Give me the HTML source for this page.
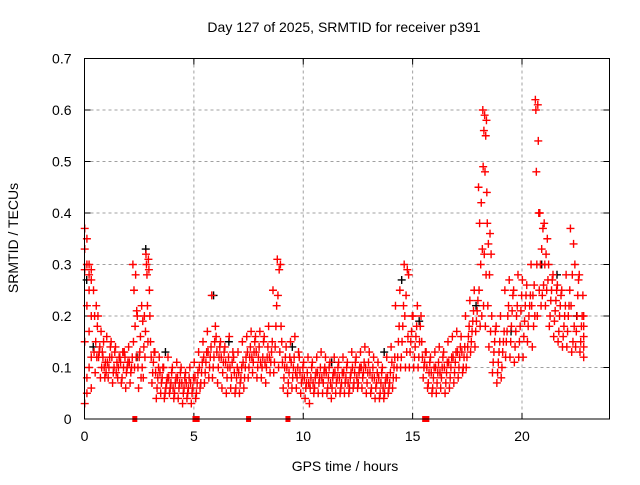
<!DOCTYPE html>
<html><head><meta charset="utf-8"><style>
html,body{margin:0;padding:0;background:#fff}
svg text{font-family:"Liberation Sans",sans-serif;font-size:14px;fill:#000}
</style></head><body>
<svg id="chart" width="640" height="480" viewBox="0 0 640 480" xmlns="http://www.w3.org/2000/svg">
<rect width="640" height="480" fill="#fff"/>
<text x="344" y="32" text-anchor="middle">Day 127 of 2025, SRMTID for receiver p391</text>
<text x="345" y="471" text-anchor="middle">GPS time / hours</text>
<text transform="translate(18,238) rotate(-90)" text-anchor="middle">SRMTID / TECUs</text>
<g id="grid"></g><g id="axes"></g><g id="black"></g><g id="red"></g><g id="zeros"></g>
<rect x="84.5" y="58.5" width="525" height="360.5" fill="none" stroke="#000" stroke-width="1"/>
</svg>
<script>
const xTicks=[0,5,10,15,20];
const yTicks=[0,0.1,0.2,0.3,0.4,0.5,0.6,0.7];
const yTickLabels=["0","0.1","0.2","0.3","0.4","0.5","0.6","0.7"];
const binWidth=0.2;
const redBins=[
[0.37,0.35,0.33,0.3,0.29,0.22,0.15,0.05,0.03,0.08],
[0.3,0.29,0.28,0.27,0.25,0.2,0.17,0.12,0.1,0.06],
[0.25,0.22,0.2,0.18,0.15,0.13,0.12,0.09],
[0.2,0.17,0.14,0.12,0.1,0.08,0.13],
[0.13,0.11,0.1,0.12,0.09,0.08,0.15],
[0.16,0.14,0.12,0.1,0.08,0.11],
[0.15,0.13,0.1,0.09,0.07,0.12],
[0.14,0.12,0.1,0.08,0.11,0.09],
[0.12,0.1,0.13,0.08,0.07,0.11],
[0.13,0.11,0.1,0.09,0.06,0.12],
[0.14,0.12,0.1,0.09,0.07,0.11],
[0.3,0.28,0.25,0.21,0.18,0.15,0.12,0.1],
[0.2,0.16,0.12,0.1,0.08,0.13,0.06],
[0.22,0.2,0.19,0.17,0.14,0.1,0.12,0.08],
[0.32,0.31,0.3,0.29,0.28,0.25,0.22,0.2,0.15],
[0.15,0.13,0.11,0.09,0.07,0.12],
[0.13,0.1,0.08,0.06,0.04,0.09],
[0.12,0.1,0.08,0.07,0.05,0.09],
[0.1,0.08,0.07,0.06,0.05,0.04],
[0.12,0.09,0.07,0.06,0.05,0.08],
[0.1,0.08,0.07,0.05,0.04,0.06],
[0.11,0.09,0.07,0.06,0.04,0.08],
[0.1,0.08,0.06,0.05,0.03,0.07],
[0.09,0.08,0.06,0.05,0.04,0.07],
[0.1,0.08,0.06,0.05,0.03,0.07],
[0.11,0.09,0.07,0.05,0.04,0.08],
[0.13,0.11,0.09,0.07,0.06,0.1],
[0.15,0.13,0.11,0.09,0.07,0.12],
[0.17,0.14,0.12,0.1,0.08,0.13],
[0.24,0.18,0.15,0.12,0.1,0.08],
[0.16,0.14,0.12,0.1,0.07,0.13],
[0.15,0.13,0.11,0.09,0.06,0.12],
[0.14,0.12,0.1,0.08,0.05,0.11],
[0.16,0.13,0.11,0.08,0.06,0.1],
[0.12,0.1,0.08,0.06,0.05,0.09],
[0.13,0.1,0.08,0.07,0.05,0.09],
[0.15,0.12,0.1,0.08,0.06,0.11],
[0.16,0.14,0.12,0.1,0.08,0.13],
[0.17,0.15,0.13,0.11,0.09,0.12],
[0.16,0.14,0.12,0.1,0.08,0.13],
[0.17,0.15,0.12,0.1,0.08,0.11],
[0.16,0.14,0.12,0.1,0.07,0.11],
[0.18,0.15,0.13,0.11,0.09,0.12],
[0.25,0.22,0.18,0.14,0.11,0.09],
[0.31,0.3,0.29,0.24,0.18,0.13,0.1],
[0.15,0.12,0.1,0.08,0.06,0.11],
[0.14,0.12,0.09,0.07,0.05,0.1],
[0.15,0.12,0.1,0.08,0.06,0.11],
[0.16,0.13,0.1,0.08,0.06,0.09],
[0.12,0.1,0.08,0.07,0.05,0.09],
[0.11,0.09,0.07,0.06,0.04,0.08],
[0.12,0.1,0.08,0.06,0.03,0.07],
[0.11,0.09,0.08,0.06,0.05,0.07],
[0.12,0.1,0.08,0.07,0.05,0.09],
[0.13,0.1,0.09,0.07,0.05,0.08],
[0.12,0.1,0.08,0.06,0.05,0.09],
[0.11,0.09,0.08,0.06,0.04,0.07],
[0.12,0.1,0.08,0.07,0.05,0.09],
[0.11,0.09,0.07,0.06,0.05,0.08],
[0.12,0.1,0.08,0.07,0.05,0.09],
[0.11,0.09,0.08,0.06,0.05,0.07],
[0.13,0.11,0.09,0.07,0.06,0.1],
[0.12,0.1,0.09,0.07,0.06,0.08],
[0.13,0.11,0.09,0.08,0.06,0.1],
[0.14,0.11,0.09,0.07,0.05,0.1],
[0.13,0.1,0.08,0.06,0.05,0.09],
[0.12,0.09,0.07,0.06,0.04,0.08],
[0.11,0.09,0.07,0.05,0.04,0.08],
[0.1,0.08,0.07,0.05,0.04,0.06],
[0.12,0.09,0.07,0.06,0.05,0.08],
[0.14,0.12,0.1,0.08,0.06,0.11],
[0.22,0.18,0.15,0.12,0.1,0.08],
[0.25,0.22,0.18,0.15,0.12,0.1],
[0.3,0.29,0.24,0.2,0.16,0.13,0.1],
[0.28,0.2,0.17,0.15,0.13,0.1],
[0.2,0.18,0.16,0.14,0.12,0.1],
[0.22,0.2,0.18,0.15,0.12,0.1],
[0.15,0.13,0.11,0.1,0.08,0.12],
[0.13,0.11,0.09,0.07,0.06,0.1],
[0.12,0.1,0.08,0.06,0.05,0.09],
[0.13,0.11,0.09,0.07,0.05,0.1],
[0.14,0.12,0.1,0.08,0.06,0.09],
[0.13,0.11,0.09,0.07,0.05,0.1],
[0.15,0.12,0.1,0.08,0.06,0.11],
[0.16,0.13,0.11,0.09,0.07,0.12],
[0.17,0.14,0.12,0.1,0.08,0.13],
[0.16,0.14,0.12,0.1,0.09,0.13],
[0.2,0.18,0.16,0.14,0.12,0.1],
[0.23,0.21,0.19,0.17,0.15,0.13],
[0.25,0.23,0.21,0.19,0.17,0.14],
[0.45,0.42,0.38,0.33,0.3,0.25,0.2,0.18],
[0.6,0.59,0.58,0.56,0.55,0.49,0.48,0.44,0.32,0.28,0.22,0.18],
[0.38,0.36,0.34,0.32,0.28,0.22,0.17,0.14],
[0.2,0.17,0.15,0.13,0.11,0.09],
[0.18,0.15,0.13,0.11,0.09,0.07],
[0.2,0.17,0.15,0.13,0.1,0.08],
[0.25,0.22,0.2,0.17,0.15,0.12],
[0.27,0.24,0.21,0.18,0.15,0.12],
[0.25,0.22,0.2,0.17,0.14,0.11],
[0.28,0.24,0.21,0.18,0.15,0.12],
[0.27,0.24,0.22,0.19,0.16,0.12],
[0.26,0.24,0.22,0.2,0.18,0.15],
[0.3,0.26,0.24,0.22,0.2,0.18,0.14],
[0.62,0.61,0.6,0.54,0.48,0.4,0.3,0.25,0.2],
[0.4,0.37,0.33,0.3,0.26,0.24,0.22],
[0.38,0.35,0.32,0.3,0.27,0.25,0.22],
[0.3,0.27,0.25,0.23,0.2,0.18],
[0.28,0.25,0.23,0.21,0.19,0.16],
[0.26,0.24,0.22,0.2,0.17,0.15],
[0.25,0.22,0.2,0.18,0.16,0.14],
[0.28,0.25,0.22,0.2,0.17,0.14],
[0.37,0.34,0.28,0.22,0.18,0.15,0.13],
[0.3,0.27,0.24,0.2,0.17,0.14],
[0.28,0.24,0.2,0.18,0.15,0.13],
[0.2,0.18,0.16,0.14,0.12]
];
const blackHours=[0.1,0.4,2.4,2.8,3.7,5.9,6.6,9.5,11.3,13.7,14.5,15.3,17.9,19.5,20.9,21.6,22.5];
const blackValues=[0.27,0.14,0.12,0.33,0.13,0.24,0.15,0.14,0.11,0.13,0.27,0.19,0.22,0.17,0.3,0.28,0.2];
const zeroHours=[2.3,5.05,5.15,7.5,9.3,15.55,15.65];

const X0=84.5,X1=609.5,Y0=419,Y1=58.5,XMAX=24,YMAX=0.7;
const sx=h=>X0+h/XMAX*(X1-X0);
const sy=v=>Y0-v/YMAX*(Y0-Y1);
const NS="http://www.w3.org/2000/svg";
function mk(tag,parent){const e=document.createElementNS(NS,tag);document.getElementById(parent).appendChild(e);return e;}

xTicks.forEach(t=>{
  const x=sx(t);
  if(t>0){const g=mk('line','grid');
    
    
    g.setAttribute('x1',x);g.setAttribute('x2',x);g.setAttribute('y1',Y1);g.setAttribute('y2',Y0);
    g.setAttribute('stroke','#a0a0a0');g.setAttribute('stroke-dasharray','3,3');}
  const tk=mk('path','axes');
  
  
  tk.setAttribute('d',`M${x},${Y0}v-6M${x},${Y1}v6`);tk.setAttribute('stroke','#000');
  const tx=mk('text','axes');
  
  
  tx.setAttribute('x',x);tx.setAttribute('y',Y0+22);tx.setAttribute('text-anchor','middle');tx.textContent=String(t);
});
yTicks.forEach((t,i)=>{
  const y=sy(t);
  if(t>0&&t<YMAX){const g=mk('line','grid');
    
    
    g.setAttribute('x1',X0);g.setAttribute('x2',X1);g.setAttribute('y1',y);g.setAttribute('y2',y);
    g.setAttribute('stroke','#a0a0a0');g.setAttribute('stroke-dasharray','3,3');}
  const tk=mk('path','axes');
  
  
  tk.setAttribute('d',`M${X0},${y}h6M${X1},${y}h-6`);tk.setAttribute('stroke','#000');
  const tx=mk('text','axes');
  
  
  tx.setAttribute('x',X0-13);tx.setAttribute('y',y+5);tx.setAttribute('text-anchor','end');tx.textContent=yTickLabels[i];
});
function plus(parent,h,v,color,name){
  const p=mk('path',parent);
  
  
  const x=sx(h),y=sy(v);
  p.setAttribute('d',`M${x-4},${y}h8M${x},${y-4}v8`);
  p.setAttribute('stroke',color);p.setAttribute('stroke-width','1.4');p.setAttribute('fill','none');
}
blackHours.forEach((h,i)=>plus('black',h,blackValues[i],'#000','black-point'));
redBins.forEach((vals,b)=>{
  const n=vals.length;
  vals.forEach((v,k)=>{
    const h=b*binWidth+((k*5)%n+0.5)/n*binWidth;
    plus('red',h,v,'#f00','red-point');
  });
});
zeroHours.forEach(h=>{
  const r=mk('rect','zeros');
  
  
  r.setAttribute('x',sx(h)-2.5);r.setAttribute('y',Y0-3);r.setAttribute('width',5);r.setAttribute('height',6);r.setAttribute('fill','#f00');
});
</script>
</body></html>
